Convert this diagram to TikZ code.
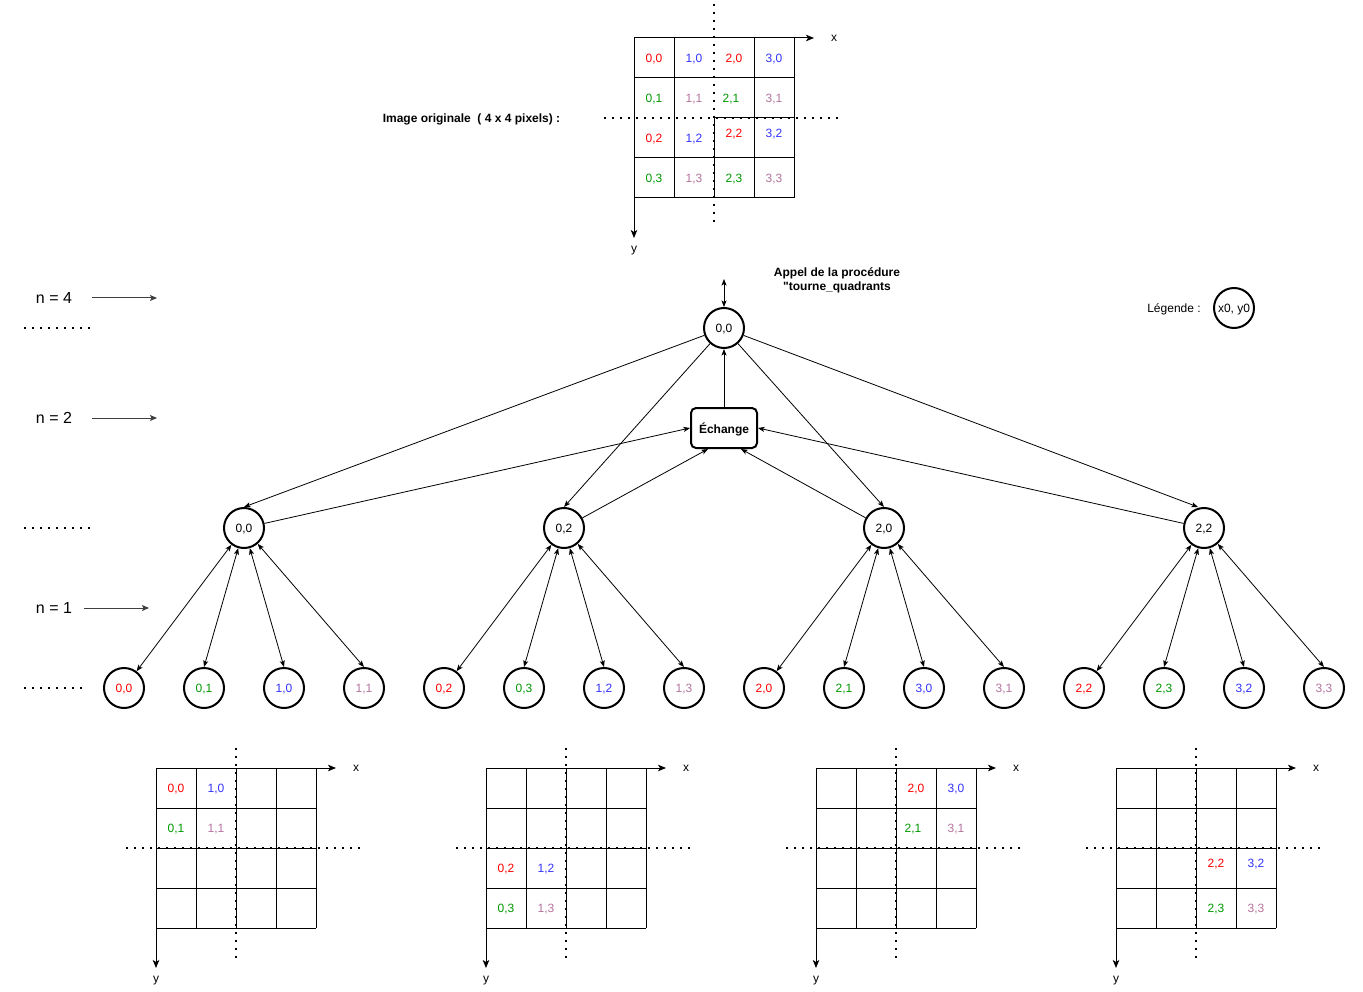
\documentclass[tikz,border=0pt]{standalone}
\usepackage{fontspec}
\setmainfont{Liberation Sans}
% same family without the TeX input mapping, so that " stays a straight quote
\newfontfamily\rawsans{Liberation Sans}
\usetikzlibrary{arrows.meta}
\definecolor{cred}{HTML}{FF0000}
\definecolor{cblue}{HTML}{3333FF}
\definecolor{cgreen}{HTML}{009900}
\definecolor{cmauve}{HTML}{B5739D}
\begin{document}
\begin{tikzpicture}[x=1pt,y=-1pt,
  every node/.style={font=\fontsize{12}{14}\selectfont, inner sep=0pt, text depth=0pt},
  gridline/.style={line width=1pt},
  dots/.style={line width=1.6pt, dash pattern=on 1.6pt off 6.4pt},
  axis/.style={line width=1pt, -{Stealth[length=8pt,width=6.5pt,inset=2pt]}},
  arr/.style={line width=0.8pt, -{Stealth[length=6.5pt,width=5pt,inset=1.5pt]}},
  dbl/.style={line width=0.8pt, {Stealth[length=6.5pt,width=5pt,inset=1.5pt]}-{Stealth[length=6.5pt,width=5pt,inset=1.5pt]}},
  label/.style={font=\fontsize{12}{14}\selectfont\bfseries, align=center},
  circ/.style={circle, draw, line width=2pt, minimum size=40pt},
  nlabel/.style={font=\fontsize{16}{18}\selectfont},
  pointer/.style={line width=1pt, black!75, -{Stealth[length=7pt,width=6pt,inset=1.5pt]}},
  qgrid/.pic={
    \foreach \i in {0,40,...,160} {
      \draw[gridline] (\i,0) -- (\i,160);
      \draw[gridline] (0,\i) -- (160,\i);
    }
    \draw[axis] (0,0) -- (180,0);
    \draw[axis] (0,160) -- (0,200);
    \node (xl) at (200,0) {x};
    \node (yl) at (0,211) {y};
    \draw[dots] (80,-20) -- (80,190);
    \draw[dots] (-30,80) -- (205,80);
  }
]
\useasboundingbox (0,0) rectangle (1363,992);

% ---------- original 4x4 image ----------
\draw[gridline] (634,38) rectangle (794,198);
\draw[gridline] (674,38) -- (674,198);
\draw[gridline] (754,38) -- (754,198);
\draw[gridline] (714,118) -- (714,198);
\draw[gridline] (634,78) -- (794,78);
\draw[gridline] (634,158) -- (794,158);
\draw[gridline] (714,118) -- (794,118);
\draw[axis] (634,38) -- (814,38);
\draw[axis] (634,198) -- (634,238);
\node (tx) at (834,38) {x};
\node (ty) at (634,249) {y};
\draw[dots] (714,4) -- (714,226);
\draw[dots] (604,118) -- (840,118);

\node[text=cred]   (t00) at (654,58) {0,0};
\node[text=cblue]  (t10) at (694,58) {1,0};
\node[text=cred]   (t20) at (734,58) {2,0};
\node[text=cblue]  (t30) at (774,58) {3,0};
\node[text=cgreen] (t01) at (654,98) {0,1};
\node[text=cmauve] (t11) at (694,98) {1,1};
\node[text=cgreen] (t21) at (731,98) {2,1};
\node[text=cmauve] (t31) at (774,98) {3,1};
\node[text=cred]   (t02) at (654,138) {0,2};
\node[text=cblue]  (t12) at (694,138) {1,2};
\node[text=cred]   (t22) at (734,133) {2,2};
\node[text=cblue]  (t32) at (774,133) {3,2};
\node[text=cgreen] (t03) at (654,178) {0,3};
\node[text=cmauve] (t13) at (694,178) {1,3};
\node[text=cgreen] (t23) at (734,178) {2,3};
\node[text=cmauve] (t33) at (774,178) {3,3};

\node[label] (orig) at (471.5,118) {Image originale\ \ ( 4 x 4 pixels) :};

% ---------- call tree ----------
\node[label] (call) at (837,279) {Appel de la procédure\\{\rawsans\bfseries "}tourne\_quadrants};
\node[circ] (root) at (724,328) {0,0};
\coordinate (entry) at (724,279);
\draw[dbl] (root.north) -- (entry);

\node[draw, line width=2pt, rounded corners=5pt, minimum width=66pt, minimum height=40pt,
      font=\fontsize{12}{14}\selectfont\bfseries] (ech) at (724,428) {Échange};
\draw[arr] (ech.north) -- (root.south);

\node[circ] (p1) at (244,528) {0,0};
\node[circ] (p2) at (564,528) {0,2};
\node[circ] (p3) at (884,528) {2,0};
\node[circ] (p4) at (1204,528) {2,2};

\draw[arr] (root) -- (p1.north);
\draw[arr] (root) -- (p2.north);
\draw[arr] (root) -- (p3.north);
\draw[arr] (root) -- ([xshift=-6pt]p4.north);

\draw[arr] (p1) -- (ech.west);
\draw[arr] (p2) -- ([xshift=-16pt]ech.south);
\draw[arr] (p3) -- ([xshift=17pt]ech.south);
\draw[arr] (p4) -- (ech.east);

% leaves
\foreach \nm/\xx/\lab/\col in {
  l1/124/{0,0}/cred, l2/204/{0,1}/cgreen, l3/284/{1,0}/cblue, l4/364/{1,1}/cmauve,
  l5/444/{0,2}/cred, l6/524/{0,3}/cgreen, l7/604/{1,2}/cblue, l8/684/{1,3}/cmauve,
  l9/764/{2,0}/cred, l10/844/{2,1}/cgreen, l11/924/{3,0}/cblue, l12/1004/{3,1}/cmauve,
  l13/1084/{2,2}/cred, l14/1164/{2,3}/cgreen, l15/1244/{3,2}/cblue, l16/1324/{3,3}/cmauve}
  \node[circ, text=\col] (\nm) at (\xx,688) {\lab};

% the first leaf of each group is joined centre to centre, the others at their top
\foreach \lf/\pa in {l1/p1,l5/p2,l9/p3,l13/p4}
  \draw[dbl] (\lf) -- (\pa);
\foreach \lf/\pa in {l2/p1,l3/p1,l4/p1,l6/p2,l7/p2,l8/p2,
                     l10/p3,l11/p3,l12/p3,l14/p4,l15/p4,l16/p4}
  \draw[dbl] (\lf.north) -- (\pa);

% ---------- legend ----------
\node (leg) at (1174,308) {Légende :};
\node[circ] (legc) at (1234,308) {x0, y0};

% ---------- level markers ----------
\node[nlabel] (n4) at (54,298) {n = 4};
\coordinate (n4a) at (92,298); \coordinate (n4b) at (157,298);
\draw[pointer] (n4a) -- (n4b);
\node[nlabel] (n2) at (54,418) {n = 2};
\coordinate (n2a) at (92,418); \coordinate (n2b) at (157,418);
\draw[pointer] (n2a) -- (n2b);
\node[nlabel] (n1) at (54,608) {n = 1};
\coordinate (n1a) at (84,608); \coordinate (n1b) at (149,608);
\draw[pointer] (n1a) -- (n1b);
\draw[dots] (24,328) -- (93,328);
\draw[dots] (24,528) -- (93,528);
\draw[dots] (24,688) -- (85,688);

% ---------- quadrant grids ----------
\pic (ga) at (156,768) {qgrid};
\pic (gb) at (486,768) {qgrid};
\pic (gc) at (816,768) {qgrid};
\pic (gd) at (1116,768) {qgrid};

\node[text=cred]   (a00) at (176,788) {0,0};
\node[text=cblue]  (a10) at (216,788) {1,0};
\node[text=cgreen] (a01) at (176,828) {0,1};
\node[text=cmauve] (a11) at (216,828) {1,1};

\node[text=cred]   (b02) at (506,868) {0,2};
\node[text=cblue]  (b12) at (546,868) {1,2};
\node[text=cgreen] (b03) at (506,908) {0,3};
\node[text=cmauve] (b13) at (546,908) {1,3};

\node[text=cred]   (c20) at (916,788) {2,0};
\node[text=cblue]  (c30) at (956,788) {3,0};
\node[text=cgreen] (c21) at (913,828) {2,1};
\node[text=cmauve] (c31) at (956,828) {3,1};

\node[text=cred]   (d22) at (1216,863) {2,2};
\node[text=cblue]  (d32) at (1256,863) {3,2};
\node[text=cgreen] (d23) at (1216,908) {2,3};
\node[text=cmauve] (d33) at (1256,908) {3,3};
\end{tikzpicture}
\end{document}
